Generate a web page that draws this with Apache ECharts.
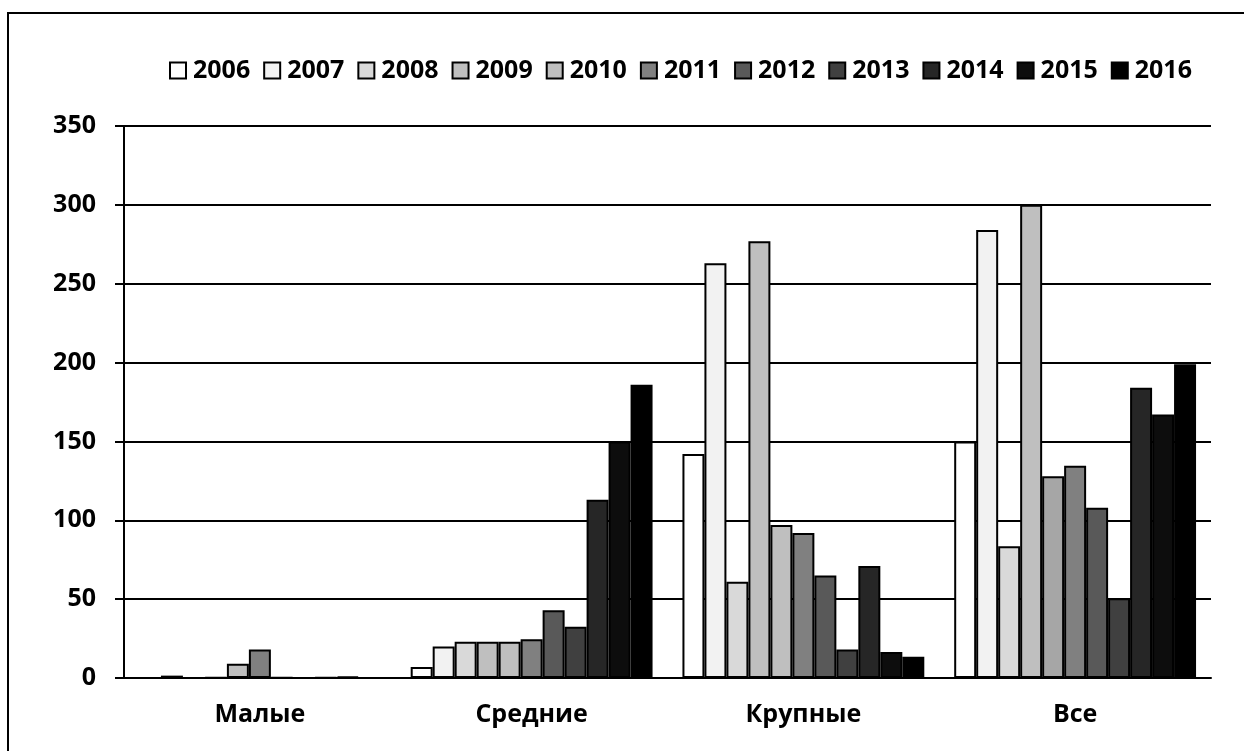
<!DOCTYPE html>
<html>
<head>
<meta charset="utf-8">
<script src="https://cdn.jsdelivr.net/npm/echarts@6/dist/echarts.min.js"></script>
<style>
  html, body { margin: 0; padding: 0; background: #fff; }
  #chart { width: 1244px; height: 751px; }
</style>
</head>
<body>
<div id="chart"></div>
<script>
// категории и годы
const categories = ['Малые', 'Средние', 'Крупные', 'Все']
const years = ['2006', '2007', '2008', '2009', '2010', '2011', '2012', '2013', '2014', '2015', '2016']
const yTicks = { min: 0, max: 350, step: 50 }

// значения по годам: [Малые, Средние, Крупные, Все]
const v2006 = [0, 7, 142, 150]
const v2007 = [1.5, 20, 263, 284]
const v2008 = [0, 23, 61, 83.5]
const v2009 = [0.3, 23, 277, 300]
const v2010 = [9, 23, 97, 128]
const v2011 = [18, 24.5, 92, 134.5]
const v2012 = [0.3, 43, 65, 108]
const v2013 = [0, 32.5, 18, 50.5]
const v2014 = [0.3, 113, 71, 184]
const v2015 = [0.8, 150, 16.5, 167]
const v2016 = [0, 186, 13.5, 199]

const values = [v2006, v2007, v2008, v2009, v2010, v2011, v2012, v2013, v2014, v2015, v2016]
const fills = ['#ffffff', '#f2f2f2', '#d9d9d9', '#bfbfbf', '#bfbfbf', '#808080',
  '#595959', '#404040', '#262626', '#0d0d0d', '#000000']

const font = { fontFamily: '"Open Sans", sans-serif', fontWeight: 'bold', fontSize: 25, color: '#000' }

const series = years.map((y, i) => ({
  name: y,
  type: 'bar',
  barGap: '0%',
  barCategoryGap: '11%',
  itemStyle: { color: fills[i], borderColor: '#000', borderWidth: 2 },
  data: values[i].map((v, j) => {
    // в группе «Все» 2010 чуть светлее
    if (y === '2010' && j === 3) return { value: v, itemStyle: { color: '#a6a6a6' } }
    return v
  })
}))

const myChart = echarts.init(document.getElementById('chart'))
const option = {
  animation: false,
  backgroundColor: '#fff',
  graphic: [{
    type: 'rect',
    shape: { x: 8, y: 13, width: 1300, height: 800 },
    style: { fill: 'none', stroke: '#000', lineWidth: 2 }
  }],
  legend: {
    left: 164,
    top: 53,
    itemWidth: 16,
    itemHeight: 16,
    itemGap: 13,
    icon: 'rect',
    textStyle: Object.assign({}, font, { padding: [0, 0, 0, 2] }),
    data: years
  },
  grid: { left: 124, right: 33, top: 126, bottom: 73 },
  xAxis: {
    type: 'category',
    data: categories,
    axisLine: { lineStyle: { color: '#000', width: 2 } },
    axisTick: { length: 8, lineStyle: { color: '#000', width: 2 } },
    axisLabel: Object.assign({}, font, { margin: 24 })
  },
  yAxis: {
    type: 'value',
    min: yTicks.min,
    max: yTicks.max,
    interval: yTicks.step,
    axisLine: { show: true, lineStyle: { color: '#000', width: 2 } },
    axisTick: { show: true, length: 9, lineStyle: { color: '#000', width: 2 } },
    splitLine: { lineStyle: { color: '#000', width: 2 } },
    axisLabel: Object.assign({}, font, { margin: 28 })
  },
  series: series
}
option && myChart.setOption(option)
</script>
</body>
</html>
